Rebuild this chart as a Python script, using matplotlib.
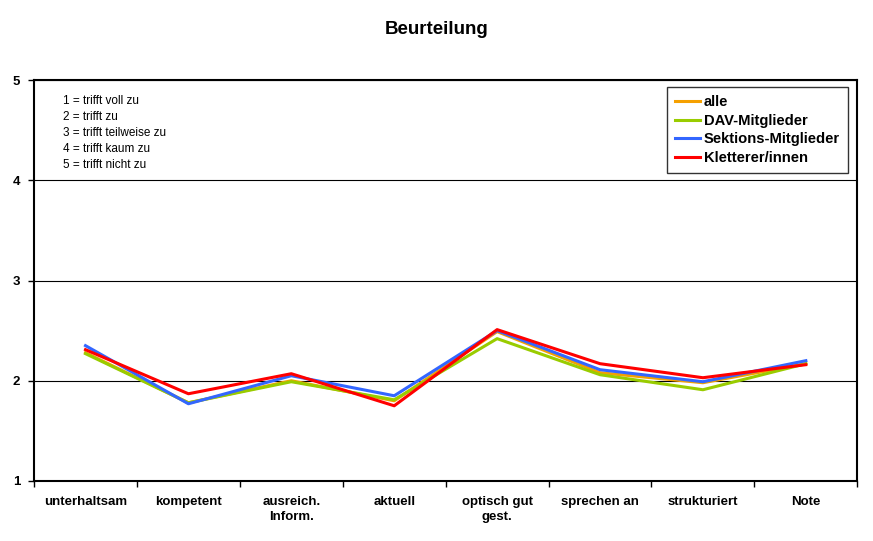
import numpy as np
import matplotlib
matplotlib.use("Agg")
import matplotlib.pyplot as plt
from matplotlib.ticker import FixedLocator, NullFormatter

plt.rcParams['font.family'] = ['Liberation Sans', 'DejaVu Sans']

# category labels and series values (1 = best, 5 = worst)
categories = ['unterhaltsam', 'kompetent', 'ausreich.\nInform.', 'aktuell',
              'optisch gut\ngest.', 'sprechen an', 'strukturiert', 'Note']
alle = [2.28, 1.78, 2.00, 1.80, 2.49, 2.08, 1.98, 2.17]
dav = [2.27, 1.78, 1.99, 1.81, 2.42, 2.06, 1.91, 2.17]
sektion = [2.35, 1.77, 2.05, 1.85, 2.50, 2.11, 1.99, 2.20]
kletterer = [2.31, 1.87, 2.07, 1.75, 2.51, 2.17, 2.03, 2.16]

scale_text = "1 = trifft voll zu\n2 = trifft zu\n3 = trifft teilweise zu\n4 = trifft kaum zu\n5 = trifft nicht zu"

fig = plt.figure(figsize=(8.73, 5.41), dpi=100)
ax = fig.add_axes([0.039, 0.111, 0.943, 0.741])

x = np.arange(len(categories))
ax.plot(x, alle, color='#F5A000', lw=2.2, label='alle', zorder=3)
ax.plot(x, dav, color='#99CC00', lw=2.2, label='DAV-Mitglieder', zorder=3)
ax.plot(x, sektion, color='#3366FF', lw=2.2, label='Sektions-Mitglieder', zorder=4)
ax.plot(x, kletterer, color='#FF0000', lw=2.2, label='Kletterer/innen', zorder=5)

ax.set_xlim(-0.5, len(categories) - 0.5)
ax.set_ylim(1, 5)
ax.set_yticks([1, 2, 3, 4, 5])
ax.set_yticklabels(['1', '2', '3', '4', '5'], fontsize=9.5, fontweight='bold')
ax.yaxis.grid(True, color='black', lw=0.8)

# category labels centred, tick marks on the boundaries
ax.set_xticks(x)
ax.set_xticklabels(categories, fontsize=9.5, fontweight='bold', linespacing=1.3)
ax.tick_params(axis='x', which='major', length=0, pad=11)
ax.xaxis.set_minor_locator(FixedLocator(np.arange(-0.5, len(categories), 1.0)))
ax.xaxis.set_minor_formatter(NullFormatter())
ax.tick_params(axis='x', which='minor', length=4, width=1, direction='out')
ax.tick_params(axis='y', length=4, width=1, direction='out', pad=6)

for s in ax.spines.values():
    s.set_linewidth(1.5)
    s.set_color('black')

ax.text(0.035, 0.963, scale_text, transform=ax.transAxes, fontsize=8.5,
        va='top', ha='left', linespacing=1.45)

leg = ax.legend(loc='upper right', bbox_to_anchor=(0.9885, 0.983),
                prop={'weight': 'bold', 'size': 10.6}, frameon=True, fancybox=False,
                edgecolor='black', handlelength=1.7, handletextpad=0.25,
                labelspacing=0.32, borderpad=0.55, borderaxespad=0)
leg.get_frame().set_linewidth(1.0)

fig.suptitle('Beurteilung', fontsize=13.5, fontweight='bold', y=0.962)

fig.savefig('out.png', dpi=100)
